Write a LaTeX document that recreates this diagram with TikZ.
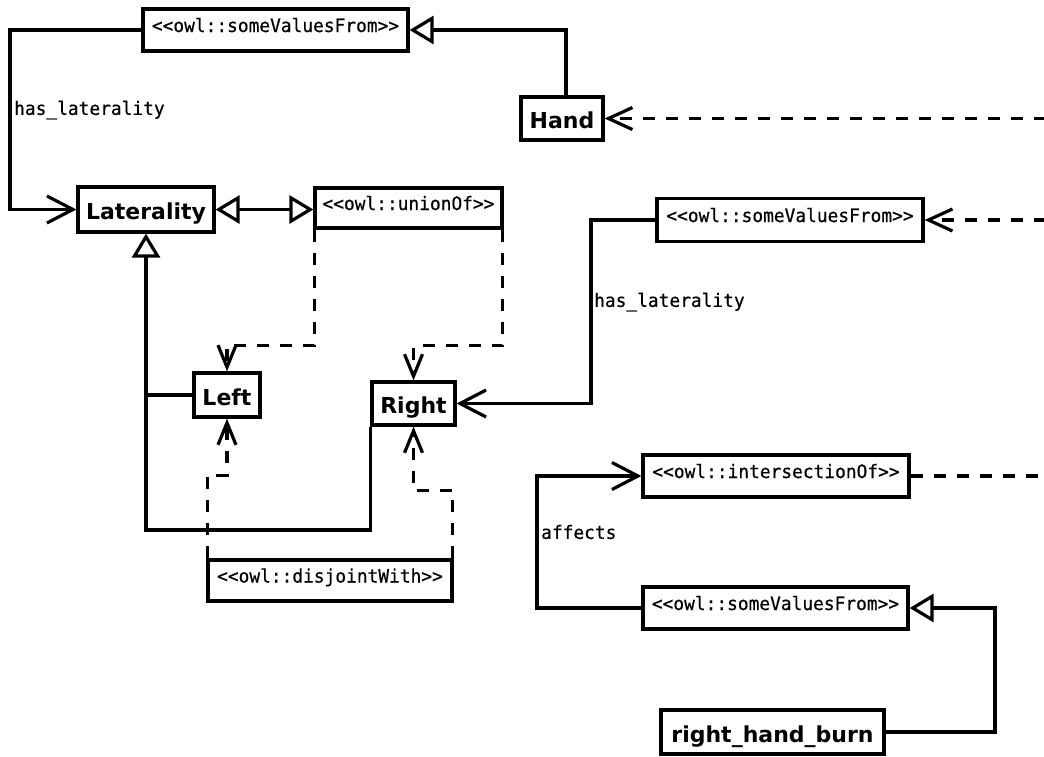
\documentclass[tikz,border=0pt]{standalone}
\usepackage{fontspec}
\setmainfont{DejaVu Sans}
\newfontfamily\stereofont[FakeStretch=0.965, FakeBold=0.5]{DejaVu Sans Mono}
\usetikzlibrary{arrows.meta}

\begin{document}
\begin{tikzpicture}[x=1pt, y=-1pt,
  lw/.style={line width=3.2pt},
  classbox/.style={draw, lw, fill=white, inner sep=0pt,
    font=\fontsize{22}{24}\selectfont\bfseries, text height=22pt, text depth=2pt},
  stereobox/.style={draw, lw, fill=white, inner sep=0pt,
    font=\stereofont\fontsize{18.5}{20}\selectfont, text height=12pt, text depth=8pt},
  edgelabel/.style={font=\stereofont\fontsize{18.5}{20}\selectfont, anchor=west, inner sep=0pt},
  assoc/.style={lw, -{Straight Barb[length=26pt, width=27pt]}},
  gen/.style={lw, -{Triangle[open, length=24pt, width=28pt, fill=white]}},
  dep/.style={lw, dash pattern=on 12pt off 11pt, -{Straight Barb[length=24pt, width=22pt]}},
  depsmall/.style={lw, dash pattern=on 12pt off 11pt, -{Straight Barb[length=22pt, width=18pt]}},
  line join=miter]

\useasboundingbox[fill=white] (0,0) rectangle (1044,756);
\coordinate (edge) at (1046,0);

% classes and restrictions
\node[stereobox, minimum width=265pt, minimum height=42pt] (sv1) at (275.5,30) {<{}<owl::someValuesFrom>{}>};
\node[classbox, minimum width=82pt, minimum height=43pt] (hand) at (562,118.5) {Hand};
\node[classbox, minimum width=136pt, minimum height=45pt] (lat) at (146,209.5) {Laterality};
\node[stereobox, minimum width=187pt, minimum height=40pt] (union) at (408.5,208) {<{}<owl::unionOf>{}>};
\node[classbox, minimum width=66pt, minimum height=44pt] (left) at (227,395) {Left};
\node[classbox, minimum width=83pt, minimum height=43pt] (right) at (413.5,403.5) {Right};
\node[stereobox, minimum width=244pt, minimum height=41pt] (disj) at (330,580.5) {<{}<owl::disjointWith>{}>};
\node[stereobox, minimum width=266pt, minimum height=43pt] (sv2) at (790,220) {<{}<owl::someValuesFrom>{}>};
\node[stereobox, minimum width=266pt, minimum height=42pt] (inter) at (776,476) {<{}<owl::intersectionOf>{}>};
\node[stereobox, minimum width=265pt, minimum height=42pt] (sv3) at (775.5,608) {<{}<owl::someValuesFrom>{}>};
\node[classbox, minimum width=223pt, minimum height=44pt] (rhb) at (772.5,732) {right\_hand\_burn};

% bend points
\coordinate (k1) at (10,30);
\coordinate (k2) at (591,220);
\coordinate (k3) at (537,608);
\coordinate (k4) at (995,732);
\coordinate (gbot) at (146,530);

% has_laterality (top)
\draw[assoc] (sv1.west) -- (k1) |- (lat.west);
\node[edgelabel] (lbl1) at (14,110) {has\_laterality};

% Hand -> someValuesFrom
\draw[gen] ([xshift=4pt]hand.north) |- (sv1.east);
\draw[dep] (hand.east -| edge) -- (hand.east);

% Laterality <-> unionOf
\draw[lw, {Triangle[open, length=24pt, width=28pt, fill=white]}-{Triangle[open, length=24pt, width=28pt, fill=white]}]
  (lat.east) -- (lat.east -| union.west);

% unionOf members
\draw[depsmall] ([xshift=1pt]union.south west) -- ++(0,116) -| (left.north);
\draw[depsmall] ([xshift=-1pt]union.south east) -- ++(0,116) -| (right.north);

% subclasses of Laterality
\draw[lw] (left.west) -- (left.west -| lat.south);
\draw[gen] (right.south west) |- (gbot) -- (lat.south);

% disjointWith
\draw[depsmall] ([xshift=1pt]disj.north west) -- ++(0,-83) -| (left.south);
\draw[depsmall] ([xshift=-1pt]disj.north east) -- ++(0,-68) -| (right.south);

% has_laterality (right)
\draw[assoc] (sv2.west) -- (k2) |- (right.east);
\node[edgelabel] (lbl2) at (594,302) {has\_laterality};
\draw[dep] (sv2.east -| edge) -- (sv2.east);

% affects
\draw[assoc] (sv3.west) -- (k3) |- (inter.west);
\node[edgelabel] (lbl3) at (541,532) {affects};
\draw[lw, dash pattern=on 12pt off 11pt] (inter.east) -- (inter.east -| edge);

% right_hand_burn -> someValuesFrom
\draw[gen] (rhb.east) -- (k4) |- (sv3.east);

\end{tikzpicture}
\end{document}
